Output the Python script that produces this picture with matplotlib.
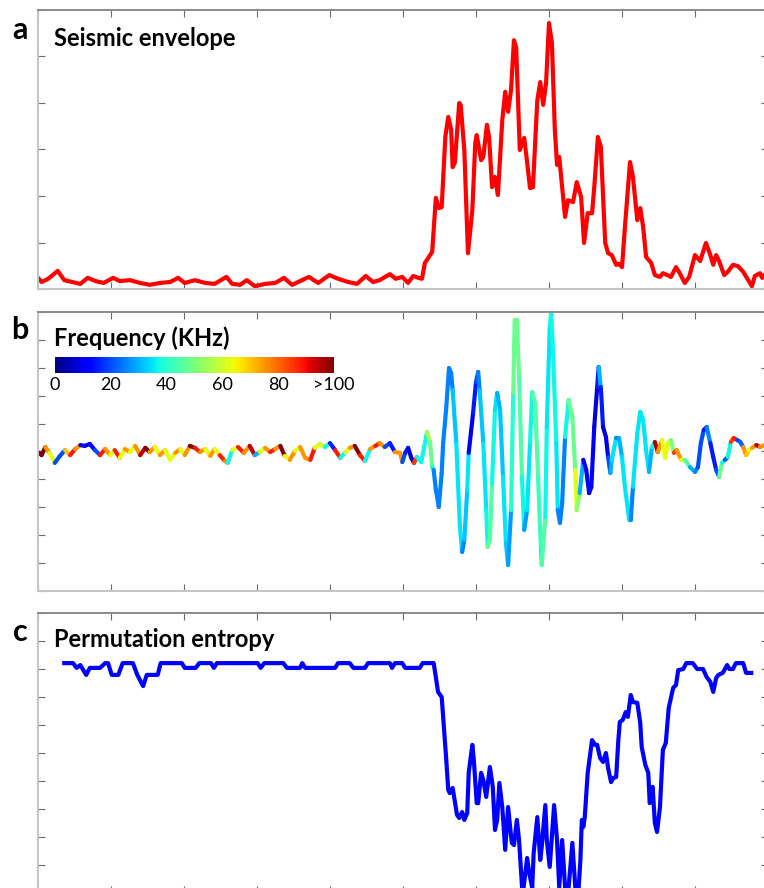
import numpy as np
import matplotlib
matplotlib.use("Agg")
import matplotlib.pyplot as plt
from matplotlib.collections import LineCollection
from matplotlib.cm import ScalarMappable
from matplotlib.colors import Normalize

plt.rcParams['font.family'] = ['Lato', 'DejaVu Sans']

# --- a: seismic envelope (time in tick units, amplitude in tick units)
env_time = [0, 0.05, 0.14, 0.27, 0.36, 0.47, 0.58, 0.68, 0.79, 0.90,
            1.03, 1.12, 1.26, 1.40, 1.53, 1.67, 1.81, 1.92, 2.01, 2.15,
            2.29, 2.42, 2.58, 2.66, 2.77, 2.86, 2.97, 3.11, 3.25, 3.37,
            3.48, 3.59, 3.71, 3.84, 3.99, 4.11, 4.25, 4.37, 4.49, 4.59,
            4.68, 4.82, 4.90, 4.99, 5.07, 5.14, 5.21, 5.26, 5.30, 5.40,
            5.45, 5.49, 5.53, 5.58, 5.62, 5.66, 5.68, 5.71, 5.77, 5.79,
            5.84, 5.89, 5.95, 5.99, 6.01, 6.07, 6.10, 6.15, 6.18, 6.22,
            6.26, 6.30, 6.36, 6.40, 6.44, 6.48, 6.52, 6.55, 6.60, 6.66,
            6.70, 6.74, 6.78, 6.84, 6.88, 6.92, 6.96, 7.00, 7.04, 7.08,
            7.11, 7.14, 7.22, 7.26, 7.33, 7.38, 7.44, 7.48, 7.53, 7.59,
            7.62, 7.67, 7.71, 7.77, 7.81, 7.86, 7.92, 7.96, 8.00, 8.04,
            8.11, 8.15, 8.21, 8.25, 8.29, 8.33, 8.40, 8.45, 8.52, 8.56,
            8.62, 8.67, 8.74, 8.78, 8.86, 8.92, 9.00, 9.07, 9.15, 9.21,
            9.25, 9.29, 9.33, 9.40, 9.45, 9.52, 9.59, 9.66, 9.73, 9.78,
            9.82, 9.89, 9.92, 9.95]
env_amp = [0.24, 0.15, 0.22, 0.39, 0.19, 0.15, 0.11, 0.24, 0.17, 0.13,
           0.24, 0.17, 0.19, 0.13, 0.09, 0.13, 0.15, 0.24, 0.13, 0.19,
           0.13, 0.11, 0.26, 0.11, 0.09, 0.19, 0.06, 0.11, 0.13, 0.24,
           0.09, 0.17, 0.26, 0.13, 0.30, 0.22, 0.15, 0.11, 0.28, 0.15,
           0.19, 0.32, 0.22, 0.26, 0.13, 0.28, 0.24, 0.22, 0.56, 0.80,
           1.96, 1.74, 1.76, 3.27, 3.70, 3.42, 2.62, 2.71, 4.00, 3.96,
           2.99, 0.77, 1.70, 3.14, 3.31, 2.77, 2.84, 3.53, 3.25, 2.19,
           2.41, 2.02, 3.63, 4.24, 3.81, 4.28, 5.35, 5.20, 2.99, 3.25,
           2.73, 2.17, 2.19, 4.06, 4.45, 3.96, 4.43, 5.72, 5.29, 3.42,
           2.67, 2.84, 1.55, 1.91, 1.87, 2.30, 1.98, 0.99, 1.63, 1.63,
           2.19, 3.27, 3.06, 0.99, 0.77, 0.73, 0.52, 0.54, 0.47, 1.33,
           2.73, 2.41, 1.48, 1.74, 1.33, 0.69, 0.56, 0.30, 0.26, 0.34,
           0.30, 0.26, 0.47, 0.37, 0.13, 0.26, 0.73, 0.60, 0.99, 0.73,
           0.52, 0.73, 0.60, 0.30, 0.37, 0.52, 0.49, 0.37, 0.19, 0.06,
           0.28, 0.34, 0.24, 0.30]

# --- b: waveform coloured by frequency (KHz)
wave_time = [0.00, 0.05, 0.10, 0.16, 0.23, 0.30, 0.37, 0.44, 0.51, 0.58,
             0.64, 0.71, 0.78, 0.85, 0.92, 0.99, 1.05, 1.12, 1.19, 1.26,
             1.33, 1.40, 1.47, 1.53, 1.60, 1.67, 1.74, 1.81, 1.88, 1.95,
             2.01, 2.08, 2.15, 2.22, 2.29, 2.36, 2.42, 2.49, 2.56, 2.60,
             2.66, 2.74, 2.82, 2.90, 2.97, 3.04, 3.11, 3.18, 3.25, 3.32,
             3.38, 3.45, 3.52, 3.59, 3.66, 3.73, 3.79, 3.86, 3.93, 4.00,
             4.07, 4.14, 4.21, 4.27, 4.34, 4.41, 4.48, 4.55, 4.62, 4.68,
             4.75, 4.82, 4.89,
             4.96, 4.99, 5.03, 5.07, 5.11, 5.15, 5.19, 5.25, 5.29, 5.33,
             5.37, 5.40, 5.42, 5.45, 5.49, 5.53, 5.55, 5.59, 5.63, 5.66,
             5.68, 5.73, 5.78, 5.81, 5.84, 5.88, 5.90, 5.93, 5.96, 6.00,
             6.03, 6.05, 6.10, 6.14, 6.16, 6.19, 6.22, 6.26, 6.29, 6.33,
             6.37, 6.41, 6.44, 6.48, 6.51, 6.53, 6.56, 6.59, 6.63, 6.66,
             6.70, 6.74, 6.77, 6.81, 6.85, 6.89, 6.90, 6.95, 6.97, 7.01,
             7.03, 7.05, 7.10, 7.12, 7.15, 7.18, 7.22, 7.27, 7.32, 7.36,
             7.38, 7.42, 7.47, 7.51, 7.55, 7.58, 7.62, 7.66, 7.68, 7.71,
             7.74, 7.78, 7.81, 7.84, 7.86, 7.92, 7.96, 8.00, 8.04, 8.10,
             8.12, 8.15, 8.21, 8.25, 8.29, 8.33, 8.37, 8.41, 8.45, 8.49,
             8.55, 8.59, 8.63, 8.67, 8.71, 8.75, 8.81, 8.86, 8.93, 9.00,
             9.04, 9.08, 9.12, 9.16, 9.21, 9.25, 9.29, 9.33, 9.37, 9.41,
             9.45, 9.49, 9.53, 9.58, 9.62, 9.66, 9.70, 9.74, 9.78, 9.84,
             9.89, 9.95]
wave_amp = [-0.02, -0.13, 0.16, -0.05, -0.41, -0.16, 0.05, -0.13, 0.09, 0.23,
            0.20, 0.27, 0.05, -0.13, 0.09, -0.13, 0.05, -0.23, 0.09, -0.02,
            0.20, -0.13, 0.13, -0.02, 0.16, -0.13, 0.05, -0.30, -0.05, 0.09,
            -0.13, 0.20, 0.13, -0.02, 0.09, -0.16, 0.09, -0.13, -0.34, -0.41,
            0.05, 0.16, -0.05, 0.20, -0.13, -0.02, 0.13, -0.02, 0.09, 0.20,
            -0.16, -0.30, 0.02, 0.16, -0.23, -0.30, 0.13, 0.27, 0.16, 0.30,
            0.05, -0.23, -0.02, 0.13, 0.20, -0.13, -0.34, 0.09, 0.20, 0.30,
            0.16, 0.30, -0.02,
            -0.05, -0.38, -0.05, 0.13, -0.20, -0.41, -0.20, -0.38, 0.16, 0.70,
            0.34, -0.56, -0.66, -1.38, -1.99, -0.77, 0.30, 1.49, 2.99, 2.81,
            2.20, 0.30, -2.71, -3.60, -3.17, -1.38, -0.05, 0.66, 1.38, 2.49,
            2.85, 2.20, 0.30, -2.10, -3.42, -3.17, -1.13, 1.49, 2.10, 1.49,
            -0.91, -3.28, -4.07, -2.10, 2.10, 4.71, 4.71, 2.67, -0.91, -2.81,
            -2.10, 0.30, 2.13, 1.74, -0.91, -3.53, -4.07, -2.35, 0.88, 4.46,
            4.96, 3.89, 0.30, -2.10, -2.56, -1.85, 0.52, 1.85, 1.24, -0.66,
            -2.10, -1.49, -0.30, -0.66, -1.49, -1.27, 0.88, 2.31, 3.03, 2.31,
            0.88, 0.52, -0.20, -0.77, -0.30, 0.48, 0.48, -0.20, -1.27, -2.46,
            -2.46, -1.27, 0.66, 1.42, 1.13, 0.05, -0.73, 0.16, 0.34, -0.02,
            0.41, -0.23, 0.30, 0.41, -0.05, 0.05, -0.30, -0.30, -0.56, -0.73,
            -0.56, 0.30, 0.77, 0.88, 0.30, -0.20, -0.66, -0.91, -0.41, -0.30,
            -0.20, 0.34, 0.48, 0.41, 0.34, 0.16, -0.13, 0.05, 0.13, 0.23,
            0.16, 0.23]
wave_freq = [100, 100, 75, 63, 20, 20, 70, 88, 75, 10,
             12, 12, 20, 88, 75, 63, 88, 63, 75, 63,
             75, 95, 100, 75, 63, 75, 63, 63, 75, 63,
             75, 100, 88, 75, 63, 75, 63, 88, 75, 37,
             63, 88, 75, 95, 30, 63, 75, 88, 75, 100,
             63, 75, 63, 75, 75, 88, 63, 60, 37, 15,
             88, 37, 63, 75, 100, 88, 37, 75, 88, 75,
             20, 15, 75,
             75, 20, 15, 8, 8, 85, 37, 37, 37, 55,
             48, 37, 25, 25, 25, 25, 25, 25, 25, 25,
             32, 35, 35, 25, 32, 35, 10, 10, 15, 20,
             25, 32, 35, 37, 48, 45, 37, 35, 30, 32,
             35, 32, 28, 40, 48, 50, 48, 45, 37, 28,
             35, 37, 45, 45, 42, 37, 45, 37, 35, 37,
             37, 37, 35, 25, 25, 25, 37, 48, 48, 62,
             52, 30, 10, 10, 12, 12, 8, 15, 30, 15,
             8, 10, 20, 30, 35, 25, 30, 35, 35, 37,
             25, 35, 35, 35, 35, 35, 30, 37, 95, 75,
             63, 63, 60, 50, 85, 75, 63, 45, 30, 25,
             20, 20, 15, 25, 15, 15, 20, 48, 37, 20,
             37, 85, 88, 20, 22, 75, 70, 63, 75, 95,
             75, 63]
freq_ticks = [0, 20, 40, 60, 80, 100]
freq_labels = ['0', '20', '40', '60', '80', '>100']

# --- c: permutation entropy
pe_time = [0.36, 0.48, 0.53, 0.58, 0.66, 0.71, 0.85, 0.92, 0.96, 1.01,
           1.10, 1.16, 1.30, 1.36, 1.44, 1.49, 1.64, 1.68, 1.97, 2.01,
           2.16, 2.21, 2.37, 2.41, 2.45, 3.01, 3.05, 3.10, 3.36, 3.41,
           3.59, 3.62, 3.66, 4.07, 4.11, 4.27, 4.32, 4.48, 4.52, 4.82,
           4.85, 4.89, 4.99, 5.03, 5.23, 5.27, 5.42, 5.45, 5.48, 5.53,
           5.55, 5.59, 5.62, 5.64, 5.68, 5.74, 5.77, 5.81, 5.84, 5.88,
           5.90, 5.95, 5.97, 6.01, 6.03, 6.07, 6.10, 6.14, 6.19, 6.23,
           6.26, 6.29, 6.32, 6.36, 6.40, 6.44, 6.49, 6.52, 6.56, 6.59,
           6.63, 6.64, 6.70, 6.73, 6.77, 6.79, 6.84, 6.88, 6.90, 6.95,
           6.97, 7.01, 7.07, 7.11, 7.14, 7.18, 7.22, 7.26, 7.32, 7.36,
           7.40, 7.43, 7.45, 7.47, 7.49, 7.53, 7.59, 7.63, 7.66, 7.70,
           7.74, 7.78, 7.81, 7.85, 7.88, 7.92, 7.95, 7.97, 8.01, 8.05,
           8.08, 8.12, 8.15, 8.21, 8.25, 8.27, 8.32, 8.36, 8.38, 8.42,
           8.45, 8.48, 8.52, 8.56, 8.60, 8.64, 8.70, 8.74, 8.77, 8.84,
           8.88, 8.97, 9.03, 9.11, 9.16, 9.21, 9.25, 9.29, 9.32, 9.38,
           9.44, 9.47, 9.52, 9.56, 9.66, 9.70, 9.77]
pe_value = [8.21, 8.21, 8.04, 8.14, 7.79, 8.04, 8.04, 8.21, 8.21, 7.79,
            7.79, 8.21, 8.21, 7.79, 7.39, 7.79, 7.79, 8.21, 8.21, 8.04,
            8.04, 8.21, 8.21, 8.04, 8.21, 8.21, 8.04, 8.21, 8.21, 8.04,
            8.04, 8.21, 8.04, 8.04, 8.21, 8.21, 8.04, 8.04, 8.21, 8.21,
            8.04, 8.21, 8.21, 8.04, 8.04, 8.21, 8.21, 7.71, 7.18, 7.00,
            6.29, 4.86, 3.68, 3.57, 3.75, 2.79, 2.68, 2.89, 2.61, 2.86,
            4.29, 5.29, 4.75, 3.21, 3.21, 4.29, 4.04, 3.43, 4.50, 3.79,
            2.25, 2.61, 3.93, 3.07, 1.54, 3.07, 1.79, 1.71, 2.61, 1.89,
            0.21, -0.07, 1.25, 0.71, 0.18, 1.43, 2.71, 1.18, 1.64, 3.14,
            1.89, 0.93, 3.14, 1.89, 0.21, 1.89, 0.21, -0.07, 1.79, 0.21,
            -0.07, 1.18, 2.61, 2.36, 2.71, 4.29, 5.46, 5.29, 5.29, 4.82,
            4.68, 5.00, 4.46, 3.96, 4.11, 4.14, 5.46, 6.11, 6.18, 6.46,
            6.29, 7.07, 6.82, 6.79, 6.07, 5.21, 4.57, 4.29, 3.21, 3.79,
            2.50, 2.18, 3.07, 5.11, 5.36, 6.61, 7.32, 7.43, 7.96, 8.00,
            8.21, 8.21, 8.00, 8.00, 7.71, 7.54, 7.18, 7.68, 7.79, 7.86,
            8.14, 8.00, 8.00, 8.21, 8.21, 7.86, 7.86]

W, H = 764, 888
fig = plt.figure(figsize=(W / 100, H / 100), dpi=100)


def add_ax(left, top, right, bottom):
    return fig.add_axes([left / W, 1 - bottom / H, (right - left) / W, (bottom - top) / H])


def style(ax, ymin, ymax):
    ax.set_xlim(0, 10)
    ax.set_ylim(ymin, ymax)
    ax.set_xticks(range(0, 11))
    ax.set_yticks(range(ymin, ymax + 1))
    ax.tick_params(direction='in', length=5, width=0.8, color='#6a6a6a',
                   top=True, right=True, labelbottom=False, labelleft=False)
    for s in ax.spines.values():
        s.set_color('#c4c4c4')
        s.set_linewidth(1.4)
    ax.spines['top'].set_color('#8a8a8a')


ax_a = add_ax(38, 10, 768, 289)
ax_b = add_ax(38, 312, 768, 591)
ax_c = add_ax(38, 613, 768, 893)

# a
ax_a.plot(env_time, env_amp, color='#ff0000', lw=3.0, solid_joinstyle='round')
style(ax_a, 0, 6)

# b
norm = Normalize(0, 100)
pts = np.column_stack([wave_time, wave_amp])
segs = np.stack([pts[:-1], pts[1:]], axis=1)
lc = LineCollection(segs, cmap='jet', norm=norm, linewidths=3.0, capstyle='round', joinstyle='round')
lc.set_array(np.array(wave_freq[:-1], dtype=float))
ax_b.add_collection(lc)
style(ax_b, -5, 5)

cax = fig.add_axes([55 / W, 1 - 373 / H, 279 / W, 16 / H])
cb = fig.colorbar(ScalarMappable(norm=norm, cmap='jet'), cax=cax, orientation='horizontal')
cb.outline.set_visible(False)
cb.set_ticks(freq_ticks)
cb.set_ticklabels(freq_labels)
cax.tick_params(length=0, labelsize=13, pad=3)

# c
ax_c.plot(pe_time, pe_value, color='#0000ff', lw=3.0, solid_joinstyle='round')
style(ax_c, 0, 10)

# labels
for lab, y in [('a', 30), ('b', 330), ('c', 632)]:
    fig.text(20 / W, 1 - y / H, lab, fontsize=22, fontweight='bold', ha='center', va='center')
fig.text(54 / W, 1 - 39 / H, 'Seismic envelope', fontsize=17, fontweight='bold', va='center')
fig.text(54 / W, 1 - 338 / H, 'Frequency (KHz)', fontsize=17, fontweight='bold', va='center')
fig.text(54 / W, 1 - 639 / H, 'Permutation entropy', fontsize=17, fontweight='bold', va='center')

fig.savefig('out.png', dpi=100)
